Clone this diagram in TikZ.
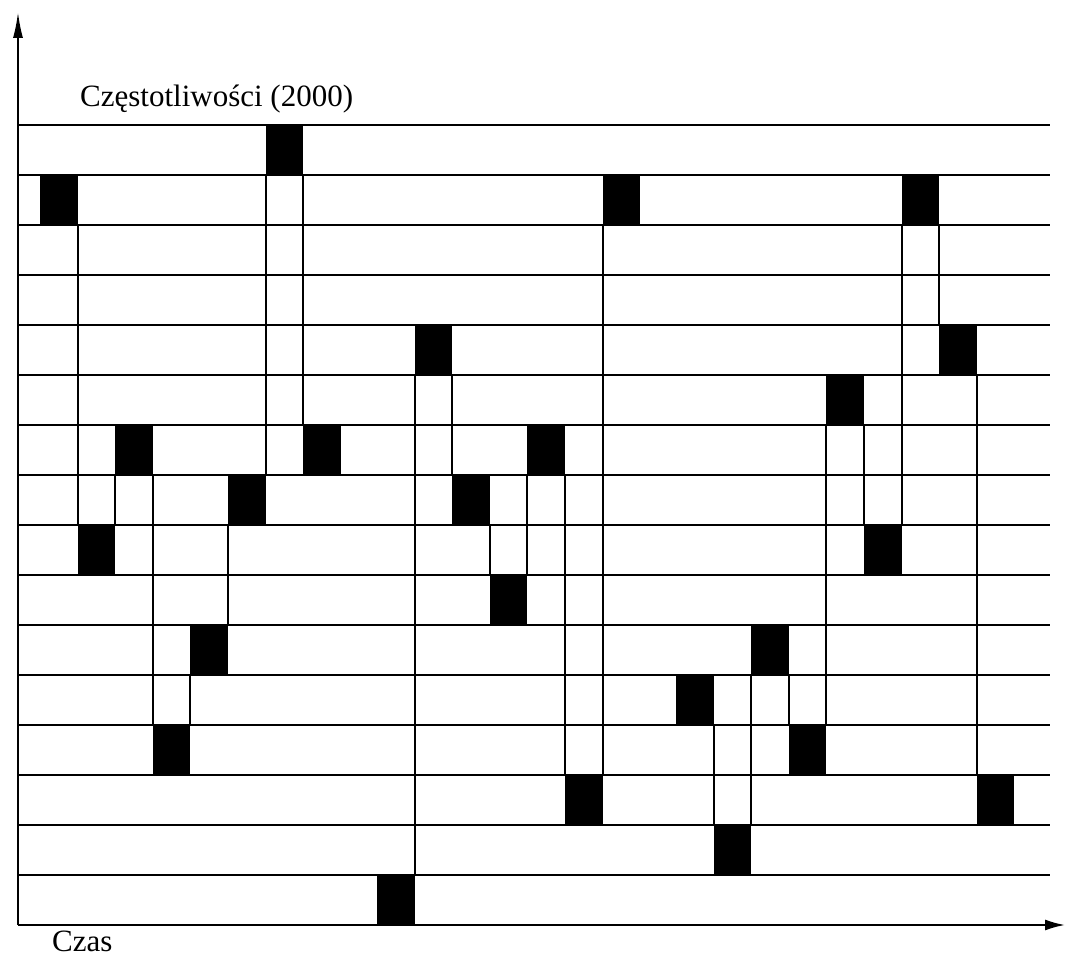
\documentclass[tikz,border=0pt]{standalone}
\usepackage{fontspec}
\setmainfont{Liberation Serif}
\usepackage{tikz}
\usetikzlibrary{arrows.meta,positioning}

\begin{document}
\begin{tikzpicture}[
    x=1pt, y=1pt,
    hop/.style={rectangle, fill=black, inner sep=0pt, outer sep=0pt, minimum width=37.6pt, minimum height=50pt},
    chan/.style={line width=2pt},
    link/.style={line width=2pt},
    axis/.style={line width=2pt},
    axislabel/.style={font=\fontsize{31}{36}\selectfont, inner sep=0pt, anchor=base west}
]
\useasboundingbox (-18,-33) rectangle (1049,925);

% axes
\coordinate (origin) at (0,0);
\coordinate (ftop) at (0,913);
\coordinate (tend) at (1047,0);
\draw[axis, -{Latex[length=26pt,width=10pt]}] (origin) -- (ftop);
\draw[axis, -{Latex[length=20pt,width=11pt]}] (origin) -- (tend);
\node[axislabel] (freq) at (62,818) {Częstotliwości (2000)};
\node[axislabel] (time) at (34,-26) {Czas};

% frequency channels
\foreach \f in {1,...,16}
    \draw[chan] (0,50*\f) -- (1032,50*\f);

% first hop sequence
\node[hop, anchor=south west] (a1) at (22,700) {};
\node[hop, below right=300pt and 0pt of a1] (a2) {};
\node[hop, above right=50pt and 0pt of a2] (a3) {};
\node[hop, below right=250pt and 0pt of a3] (a4) {};
\node[hop, above right=50pt and 0pt of a4] (a5) {};
\node[hop, above right=100pt and 0pt of a5] (a6) {};
\node[hop, above right=300pt and 0pt of a6] (a7) {};
\node[hop, below right=250pt and 0pt of a7] (a8) {};

\draw[link] (a1.south east) -- (a2.north west);
\draw[link] (a2.north east) -- (a3.south west);
\draw[link] (a3.south east) -- (a4.north west);
\draw[link] (a4.north east) -- (a5.south west);
\draw[link] (a5.north east) -- (a6.south west);
\draw[link] (a6.north east) -- (a7.south west);
\draw[link] (a7.south east) -- (a8.north west);

% second hop sequence
\node[hop, anchor=south west] (b1) at (359,0) {};
\node[hop, above right=500pt and 0pt of b1] (b2) {};
\node[hop, below right=100pt and 0pt of b2] (b3) {};
\node[hop, below right=50pt and 0pt of b3] (b4) {};
\node[hop, above right=100pt and 0pt of b4] (b5) {};
\node[hop, below right=300pt and 0pt of b5] (b6) {};
\node[hop, above right=550pt and 0pt of b6] (b7) {};

\draw[link] (b1.north east) -- (b2.south west);
\draw[link] (b2.south east) -- (b3.north west);
\draw[link] (b3.south east) -- (b4.north west);
\draw[link] (b4.north east) -- (b5.south west);
\draw[link] (b5.south east) -- (b6.north west);
\draw[link] (b6.north east) -- (b7.south west);

% third hop sequence
\node[hop, anchor=south west] (c1) at (658,200) {};
\node[hop, below right=100pt and 0pt of c1] (c2) {};
\node[hop, above right=150pt and 0pt of c2] (c3) {};
\node[hop, below right=50pt and 0pt of c3] (c4) {};
\node[hop, above right=300pt and 0pt of c4] (c5) {};
\node[hop, below right=100pt and 0pt of c5] (c6) {};
\node[hop, above right=300pt and 0pt of c6] (c7) {};
\node[hop, below right=100pt and 0pt of c7] (c8) {};
\node[hop, below right=400pt and 0pt of c8] (c9) {};

\draw[link] (c1.south east) -- (c2.north west);
\draw[link] (c2.north east) -- (c3.south west);
\draw[link] (c3.south east) -- (c4.north west);
\draw[link] (c4.north east) -- (c5.south west);
\draw[link] (c5.south east) -- (c6.north west);
\draw[link] (c6.north east) -- (c7.south west);
\draw[link] (c7.south east) -- (c8.north west);
\draw[link] (c8.south east) -- (c9.north west);
\end{tikzpicture}
\end{document}
